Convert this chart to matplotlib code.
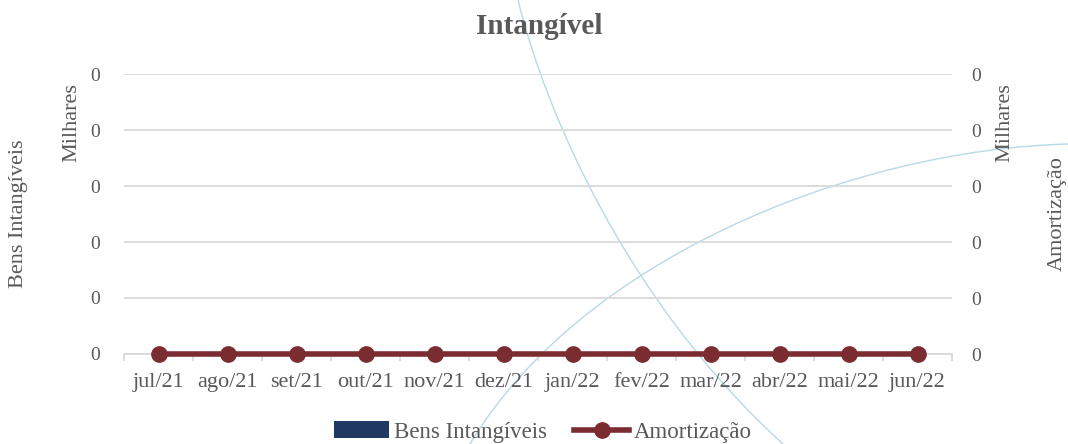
import matplotlib.pyplot as plt
import numpy as np
from matplotlib.path import Path
from matplotlib.patches import PathPatch
from matplotlib.ticker import FuncFormatter, FixedLocator

# dados (valores em milhares, todos zerados no original)
meses = ['jul/21', 'ago/21', 'set/21', 'out/21', 'nov/21', 'dez/21',
         'jan/22', 'fev/22', 'mar/22', 'abr/22', 'mai/22', 'jun/22']
bens_intangiveis = [0, 0, 0, 0, 0, 0, 0, 0, 0, 0, 0, 0]
amortizacao = [0, 0, 0, 0, 0, 0, 0, 0, 0, 0, 0, 0]

plt.rcParams['font.family'] = ['Liberation Serif', 'DejaVu Serif']
cinza = '#595959'
W, H = 1068, 444

fig = plt.figure(figsize=(W / 100, H / 100), dpi=100)

# fundo decorativo (arcos azul-claro do tema)
bg = fig.add_axes([0, 0, 1, 1], zorder=-1)
bg.set_xlim(0, W)
bg.set_ylim(H, 0)
bg.axis('off')
arco1 = Path([(518, 0), (545, 110), (625, 300), (783, 444)],
             [Path.MOVETO, Path.CURVE4, Path.CURVE4, Path.CURVE4])
arco2 = Path([(470, 444), (580, 260), (850, 150), (1068, 144)],
             [Path.MOVETO, Path.CURVE4, Path.CURVE4, Path.CURVE4])
for p in (arco1, arco2):
    bg.add_patch(PathPatch(p, fill=False, edgecolor='#b7d9e8', lw=1.0))

# eixo principal
ax = fig.add_axes([124 / W, 1 - 354 / H, 828 / W, 280 / H])
ax.patch.set_alpha(0)
x = np.arange(len(meses))
ax.bar(x, bens_intangiveis, width=0.6, color='#1f3864', label='Bens Intangíveis')
ax.set_xlim(-0.5, len(meses) - 0.5)
ax.set_ylim(0, 1)
ax.yaxis.set_major_locator(FixedLocator([0, 0.2, 0.4, 0.6, 0.8, 1.0]))
ax.yaxis.set_major_formatter(FuncFormatter(lambda v, p: f'{v / 1000:.0f}'))
ax.grid(axis='y', color='#d9d9d9', lw=1.3)
ax.set_axisbelow(True)
for s in ['top', 'left', 'right']:
    ax.spines[s].set_visible(False)
ax.spines['bottom'].set_color('#d9d9d9')
ax.spines['bottom'].set_linewidth(1.3)
ax.set_xticks(x)
ax.set_xticklabels(meses)
ax.set_xticks(np.arange(-0.5, len(meses)), minor=True)
ax.tick_params(axis='x', which='major', length=0, pad=14, labelsize=16, labelcolor=cinza)
ax.tick_params(axis='x', which='minor', length=5, color='#d9d9d9', width=1.3)
ax.tick_params(axis='y', length=0, pad=17, labelsize=14, labelcolor=cinza)

ax2 = ax.twinx()
ax2.plot(x, amortizacao, color='#7b2c31', lw=4, marker='o', ms=11,
         label='Amortização', clip_on=False, zorder=5)
ax2.set_ylim(0, 1)
ax2.yaxis.set_major_locator(FixedLocator([0, 0.2, 0.4, 0.6, 0.8, 1.0]))
ax2.yaxis.set_major_formatter(FuncFormatter(lambda v, p: f'{v / 1000:.0f}'))
for s in ['top', 'left', 'right', 'bottom']:
    ax2.spines[s].set_visible(False)
ax2.tick_params(axis='y', length=0, pad=14, labelsize=14, labelcolor=cinza)

# titulos dos eixos
fig.text(539 / W, 1 - 27 / H, 'Intangível', ha='center', va='center',
         fontsize=21, fontweight='bold', color=cinza)
fig.text(19 / W, 1 - 214 / H, 'Bens Intangíveis', rotation=90, ha='center',
         va='center', fontsize=16, color=cinza)
fig.text(72 / W, 1 - 123 / H, 'Milhares', rotation=90, ha='center',
         va='center', fontsize=16, color=cinza)
fig.text(1005 / W, 1 - 123 / H, 'Milhares', rotation=90, ha='center',
         va='center', fontsize=16, color=cinza)
fig.text(1057 / W, 1 - 214 / H, 'Amortização', rotation=90, ha='center',
         va='center', fontsize=16, color=cinza)

h1, l1 = ax.get_legend_handles_labels()
h2, l2 = ax2.get_legend_handles_labels()
leg = fig.legend(h1 + h2, l1 + l2, loc='center', bbox_to_anchor=(543 / W, 1 - 432 / H),
                 ncol=2, frameon=False, fontsize=16.5, handlelength=2.4,
                 handletextpad=0.2, columnspacing=1.2)
for t in leg.get_texts():
    t.set_color(cinza)

fig.savefig('out.png', dpi=100)
